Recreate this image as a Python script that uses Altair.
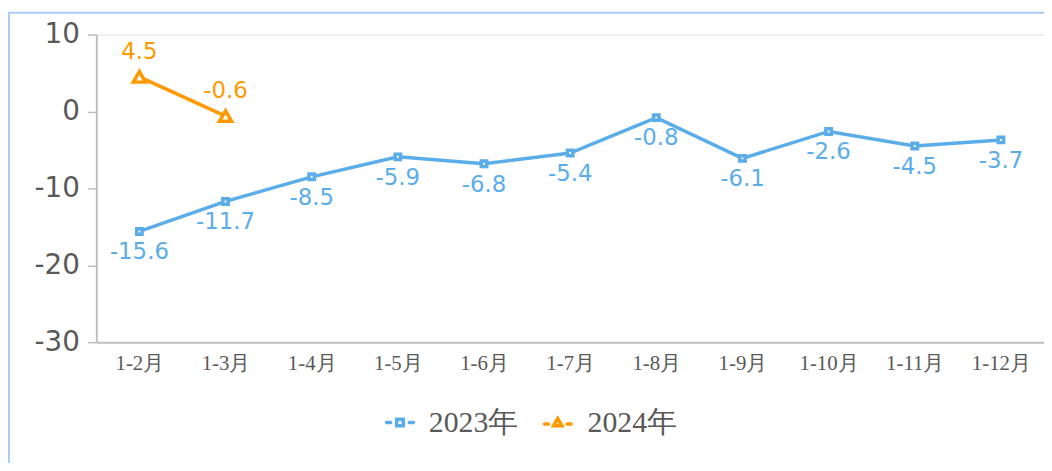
import altair as alt
import pandas as pd

months = ["1-2月", "1-3月", "1-4月", "1-5月", "1-6月", "1-7月", "1-8月", "1-9月", "1-10月", "1-11月", "1-12月"]
v2023 = [-15.6, -11.7, -8.5, -5.9, -6.8, -5.4, -0.8, -6.1, -2.6, -4.5, -3.7]
m2024 = ["1-2月", "1-3月"]
v2024 = [4.5, -0.6]
series = ["2023年", "2024年"]
colors = ["#5BADEA", "#FF9900"]

rows = [{"month": m, "value": v, "series": "2023年"} for m, v in zip(months, v2023)]
rows += [{"month": m, "value": v, "series": "2024年"} for m, v in zip(m2024, v2024)]
df = pd.DataFrame(rows)
legend_df = pd.DataFrame({"series": series})

W, H = 955, 310
LEFT, TOP = 89, 25

x = alt.X("month:N", sort=months,
          scale=alt.Scale(type="point", domain=months, padding=0.5),
          axis=alt.Axis(title=None, labelAngle=0, ticks=False, grid=False, domainColor="#BFBFBF",
                        domainWidth=2, labelFont="Liberation Serif", labelFontSize=21,
                        labelColor="#595959", labelPadding=11))
y = alt.Y("value:Q", scale=alt.Scale(domain=[-30, 10], nice=False),
          axis=alt.Axis(title=None, values=[-30, -20, -10, 0, 10], grid=False,
                        domainColor="#BFBFBF", domainWidth=2, tickColor="#BFBFBF", tickSize=9,
                        tickWidth=1.5, labelFont="DejaVu Sans", labelFontSize=28,
                        labelColor="#595959", labelPadding=8,
                        labelExpr="replace(datum.label, '\u2212', '-')"))

color = alt.Color("series:N", scale=alt.Scale(domain=series, range=colors), legend=None)

base = alt.Chart(df).transform_calculate(
    lbl="replace(format(datum.value, '.1f'), '\u2212', '-')"
)

lines = base.mark_line(strokeWidth=3.5).encode(x=x, y=y, color=color)

pts23 = base.transform_filter(alt.datum.series == "2023年").mark_point(
    shape="square", filled=False, fill="white", fillOpacity=1, strokeWidth=3.5, size=30, opacity=1
).encode(x=x, y=y, color=color)

pts24 = base.transform_filter(alt.datum.series == "2024年").mark_point(
    shape="triangle-up", filled=False, fill="white", fillOpacity=1, strokeWidth=3.5, size=150, opacity=1
).encode(x=x, y=y, color=color)

lab23 = base.transform_filter(alt.datum.series == "2023年").mark_text(
    font="DejaVu Sans", fontSize=23, dy=21, baseline="middle"
).encode(x=x, y=y, text="lbl:N", color=color)

lab24 = base.transform_filter(alt.datum.series == "2024年").mark_text(
    font="DejaVu Sans", fontSize=23, dy=-25, baseline="middle"
).encode(x=x, y=y, text="lbl:N", color=color)

# legend drawn by hand below the plot
sq_path = "M-0.9,0H-0.62M0.62,0H0.9M-0.22,-0.22H0.22V0.22H-0.22Z"
tri_path = "M-0.9,0.1H-0.62M0.62,0.1H0.9M0,-0.26L0.28,0.22H-0.28Z"
leg_base = alt.Chart(legend_df)
LEG_Y = 391
leg_sym23 = leg_base.transform_filter(alt.datum.series == "2023年").mark_point(
    shape=sq_path, filled=False, fill="white", fillOpacity=1, strokeWidth=3.5, size=900, opacity=1,
    strokeCap="round"
).encode(x=alt.value(306), y=alt.value(LEG_Y), color=color)
leg_sym24 = leg_base.transform_filter(alt.datum.series == "2024年").mark_point(
    shape=tri_path, filled=False, fill="white", fillOpacity=1, strokeWidth=3.5, size=900, opacity=1,
    strokeCap="round"
).encode(x=alt.value(465), y=alt.value(LEG_Y), color=color)
leg_txt23 = leg_base.transform_filter(alt.datum.series == "2023年").mark_text(
    font="Liberation Serif", fontSize=30, color="#595959", align="left", baseline="middle"
).encode(x=alt.value(335), y=alt.value(LEG_Y + 1), text="series:N")
leg_txt24 = leg_base.transform_filter(alt.datum.series == "2024年").mark_text(
    font="Liberation Serif", fontSize=30, color="#595959", align="left", baseline="middle"
).encode(x=alt.value(495), y=alt.value(LEG_Y + 1), text="series:N")

frame_df = pd.DataFrame({"k": [0]})
frame_top = alt.Chart(frame_df).mark_rule(color="#A9CDF2", strokeWidth=2).encode(
    x=alt.value(-LEFT), x2=alt.value(W + 10), y=alt.value(-TOP + 3))
frame_left = alt.Chart(frame_df).mark_rule(color="#A9CDF2", strokeWidth=2).encode(
    x=alt.value(-LEFT + 1), y=alt.value(-TOP + 3), y2=alt.value(H + 200))

chart = alt.layer(
    frame_top, frame_left, lines, pts23, pts24, lab23, lab24,
    leg_sym23, leg_sym24, leg_txt23, leg_txt24
).properties(
    width=W, height=H,
    autosize=alt.AutoSizeParams(type="none"),
    padding={"left": LEFT, "top": TOP, "right": 0, "bottom": 471 - 16 - TOP - H},
).configure_view(strokeWidth=0, stroke=None, fill=None).configure_axis(grid=False).configure(
    background="white")

chart.save("out.html", embed_options={"renderer": "svg", "actions": False})
